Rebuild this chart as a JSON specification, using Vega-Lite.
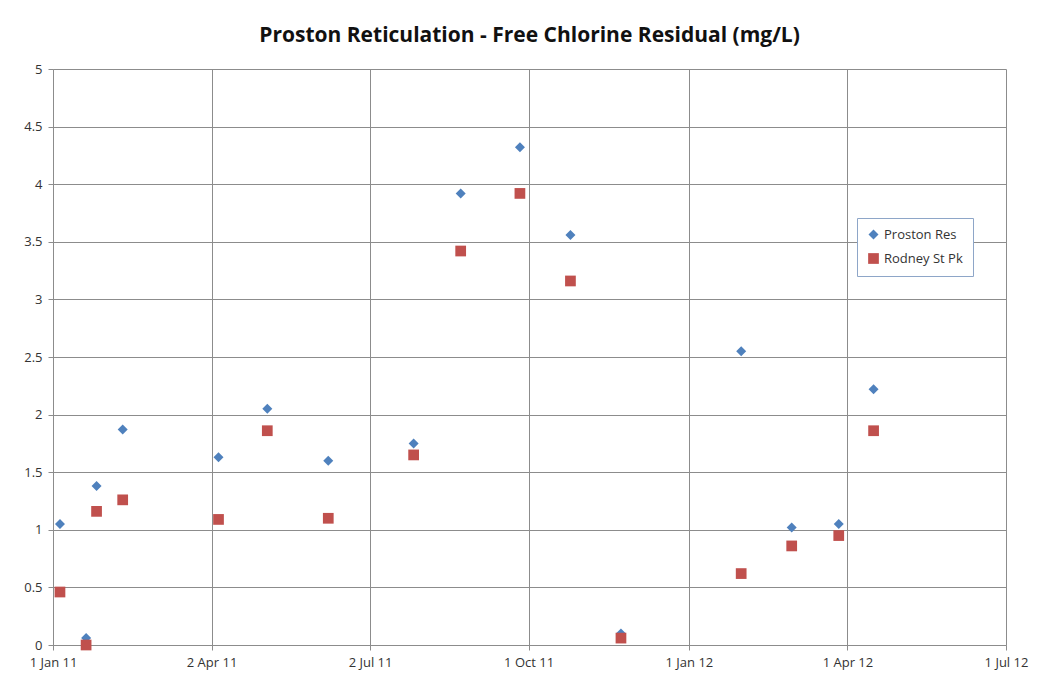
{
  "$schema": "https://vega.github.io/schema/vega-lite/v6.json",
  "autosize": {"type": "none"},
  "padding": {"left": 53, "top": 69, "right": 43, "bottom": 41},
  "width": 953,
  "height": 576,
  "background": "white",
  "title": {
    "text": "Proston Reticulation - Free Chlorine Residual (mg/L)",
    "font": "Open Sans",
    "fontSize": 21,
    "fontWeight": "bold",
    "color": "#111111",
    "offset": 17,
    "anchor": "middle"
  },
  "data": {
    "values": [
      {"date": "2011-01-05", "series": "Proston Res", "value": 1.05},
      {"date": "2011-01-20", "series": "Proston Res", "value": 0.06},
      {"date": "2011-01-26", "series": "Proston Res", "value": 1.38},
      {"date": "2011-02-10", "series": "Proston Res", "value": 1.87},
      {"date": "2011-04-06", "series": "Proston Res", "value": 1.63},
      {"date": "2011-05-04", "series": "Proston Res", "value": 2.05},
      {"date": "2011-06-08", "series": "Proston Res", "value": 1.60},
      {"date": "2011-07-27", "series": "Proston Res", "value": 1.75},
      {"date": "2011-08-23", "series": "Proston Res", "value": 3.92},
      {"date": "2011-09-26", "series": "Proston Res", "value": 4.32},
      {"date": "2011-10-25", "series": "Proston Res", "value": 3.56},
      {"date": "2011-11-23", "series": "Proston Res", "value": 0.10},
      {"date": "2012-01-31", "series": "Proston Res", "value": 2.55},
      {"date": "2012-02-29", "series": "Proston Res", "value": 1.02},
      {"date": "2012-03-27", "series": "Proston Res", "value": 1.05},
      {"date": "2012-04-16", "series": "Proston Res", "value": 2.22},
      {"date": "2011-01-05", "series": "Rodney St Pk", "value": 0.46},
      {"date": "2011-01-20", "series": "Rodney St Pk", "value": 0.00},
      {"date": "2011-01-26", "series": "Rodney St Pk", "value": 1.16},
      {"date": "2011-02-10", "series": "Rodney St Pk", "value": 1.26},
      {"date": "2011-04-06", "series": "Rodney St Pk", "value": 1.09},
      {"date": "2011-05-04", "series": "Rodney St Pk", "value": 1.86},
      {"date": "2011-06-08", "series": "Rodney St Pk", "value": 1.10},
      {"date": "2011-07-27", "series": "Rodney St Pk", "value": 1.65},
      {"date": "2011-08-23", "series": "Rodney St Pk", "value": 3.42},
      {"date": "2011-09-26", "series": "Rodney St Pk", "value": 3.92},
      {"date": "2011-10-25", "series": "Rodney St Pk", "value": 3.16},
      {"date": "2011-11-23", "series": "Rodney St Pk", "value": 0.06},
      {"date": "2012-01-31", "series": "Rodney St Pk", "value": 0.62},
      {"date": "2012-02-29", "series": "Rodney St Pk", "value": 0.86},
      {"date": "2012-03-27", "series": "Rodney St Pk", "value": 0.95},
      {"date": "2012-04-16", "series": "Rodney St Pk", "value": 1.86}
    ]
  },
  "mark": {"type": "point", "filled": true, "opacity": 1},
  "encoding": {
    "x": {
      "field": "date",
      "type": "temporal",
      "scale": {
        "type": "utc",
        "domain": [
          {"year": 2011, "month": 1, "date": 1, "utc": true},
          {"year": 2012, "month": 7, "date": 1, "utc": true}
        ]
      },
      "axis": {
        "title": null,
        "values": [
          {"year": 2011, "month": 1, "date": 1, "utc": true},
          {"year": 2011, "month": 4, "date": 2, "utc": true},
          {"year": 2011, "month": 7, "date": 2, "utc": true},
          {"year": 2011, "month": 10, "date": 1, "utc": true},
          {"year": 2012, "month": 1, "date": 1, "utc": true},
          {"year": 2012, "month": 4, "date": 1, "utc": true},
          {"year": 2012, "month": 7, "date": 1, "utc": true}
        ],
        "format": "%-d %b %y",
        "labelFlush": false,
        "labelPadding": 6,
        "labelOverlap": false
      }
    },
    "y": {
      "field": "value",
      "type": "quantitative",
      "scale": {"domain": [0, 5], "nice": false, "zero": true},
      "axis": {
        "title": null,
        "values": [0, 0.5, 1, 1.5, 2, 2.5, 3, 3.5, 4, 4.5, 5],
        "format": "~g",
        "labelPadding": 6
      }
    },
    "color": {
      "field": "series",
      "type": "nominal",
      "scale": {"domain": ["Proston Res", "Rodney St Pk"], "range": ["#4F81BD", "#C0504D"]},
      "legend": {
        "title": null,
        "orient": "none",
        "legendX": 804,
        "legendY": 149,
        "strokeColor": "#8EA6C8",
        "fillColor": "white",
        "padding": 10,
        "rowPadding": 10,
        "labelFont": "Open Sans",
        "labelFontSize": 13,
        "labelColor": "#333333",
        "symbolOpacity": 1,
        "symbolSize": 90
      }
    },
    "shape": {
      "field": "series",
      "type": "nominal",
      "scale": {"domain": ["Proston Res", "Rodney St Pk"], "range": ["diamond", "square"]},
      "legend": null
    },
    "size": {
      "field": "series",
      "type": "nominal",
      "scale": {"domain": ["Proston Res", "Rodney St Pk"], "range": [100, 115]},
      "legend": null
    }
  },
  "config": {
    "view": {"stroke": null},
    "axis": {
      "labelFont": "Open Sans",
      "labelFontSize": 13,
      "labelColor": "#333333",
      "gridColor": "#8C8C8C",
      "gridWidth": 1,
      "gridOpacity": 1,
      "domainColor": "#8C8C8C",
      "tickColor": "#8C8C8C",
      "tickSize": 5
    }
  }
}
